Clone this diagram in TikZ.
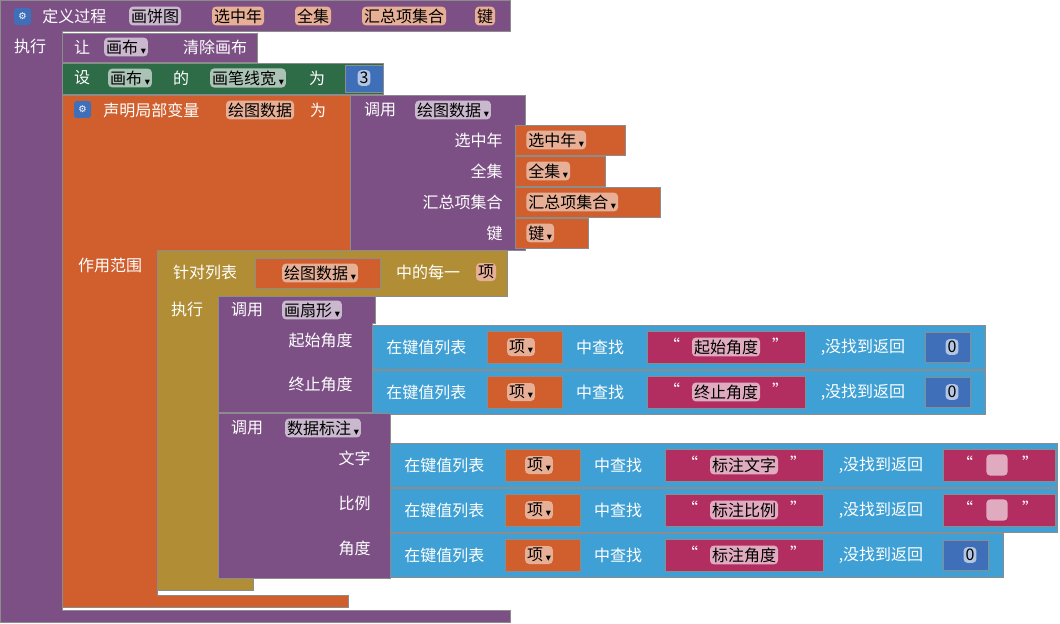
\documentclass[tikz,border=0pt]{standalone}
\usepackage{fontspec}
\setmainfont{Noto Sans CJK SC}
\newfontfamily\sym{DejaVu Sans}
\definecolor{proc}{HTML}{7C5085}
\definecolor{vars}{HTML}{D05F2D}
\definecolor{setc}{HTML}{2E6B47}
\definecolor{dict}{HTML}{3EA0D4}
\definecolor{txtc}{HTML}{B22D60}
\definecolor{ctrl}{HTML}{B18E35}
\definecolor{numc}{HTML}{3F6FB8}
\newcommand\dd{\,{\sym\tiny ▼}}
\tikzset{
  blk/.style={draw=black!45,line width=.5pt},
  lbl/.style={text=white,font=\fontsize{12}{14}\selectfont,inner sep=0pt},
  pill/.style={fill=white,fill opacity=.6,text opacity=1,rounded corners=3pt,
    inner sep=1.5pt,font=\fontsize{12}{14}\selectfont,text=black},
  ppill/.style={pill,fill=vars!50!white,fill opacity=1},
}
% one dictionary lookup row: x left, y top, x right, key text, fallback code
\newcommand\kvrow[5]{%
  \fill[dict,blk] (#1,#2) rectangle (#3,#2+44);
  \node[lbl,anchor=west] at (#1+14,#2+22) {在键值列表};
  \fill[vars,blk] (#1+115,#2+6) rectangle (#1+190,#2+38);
  \node[ppill] at (#1+149,#2+22) {项\dd};
  \node[lbl] at (#1+228,#2+22) {中查找};
  \fill[txtc,blk] (#1+275,#2+6) rectangle (#1+433,#2+38);
  \node[lbl] at (#1+300,#2+20) {“};
  \node[pill] at (#1+354,#2+22) {#4};
  \node[lbl] at (#1+408,#2+20) {”};
  \node[lbl] at (#1+491,#2+22) {,没找到返回};
  #5}
\newcommand\numzero[2]{%
  \fill[numc,blk] (#1+553,#2+7) rectangle (#1+598,#2+37);
  \node[pill] at (#1+580,#2+22) {0};}
\newcommand\emptytxt[2]{%
  \fill[txtc,blk] (#1+553,#2+6) rectangle (#1+665,#2+38);
  \node[lbl] at (#1+575,#2+20) {“};
  \node[pill,minimum width=16pt,minimum height=16pt] at (#1+607,#2+22) {};
  \node[lbl] at (#1+640,#2+20) {”};}
\begin{document}
\begin{tikzpicture}[x=0.75pt,y=-0.75pt]
\useasboundingbox (0,0) rectangle (1060,624);
% procedure frame
\fill[proc,blk] (0,0) -- (510,0) -- (510,31) -- (62,31) -- (62,610) -- (510,610)
  -- (510,622) -- (0,622) -- cycle;
\fill[numc,rounded corners=2pt] (14,8) rectangle (31,25);
\node[text=white,font=\sym\scriptsize] at (22.5,16.5) {⚙};
\node[lbl,anchor=west] (def) at (42,16) {定义过程};
\node[pill] (name) at (155,16) {画饼图};
\node[ppill] (p1) at (238,16) {选中年};
\node[ppill] (p2) at (313,16) {全集};
\node[ppill] (p3) at (404,16) {汇总项集合};
\node[ppill] (p4) at (485,16) {键};
\node[lbl] at (30,46) {执行};
% clear canvas
\fill[proc,blk] (62,33) rectangle (257,62);
\node[lbl] at (82,47) {让};
\node[pill] at (126,47) {画布\dd};
\node[lbl] at (215,47) {清除画布};
% set line width
\fill[setc,blk] (62,63) rectangle (383,94);
\node[lbl] at (82,78) {设};
\node[pill] at (130,78) {画布\dd};
\node[lbl] at (181,78) {的};
\node[pill] at (248,78) {画笔线宽\dd};
\node[lbl] at (317,78) {为};
\fill[numc,blk] (345,65) rectangle (383,92);
\node[pill] at (364,78) {3};
% local variable
\fill[vars,blk] (62,95) -- (350,95) -- (350,250) -- (157,250) -- (157,595) -- (348,595)
  -- (348,607) -- (62,607) -- cycle;
\fill[numc,rounded corners=2pt] (74,101) rectangle (91,118);
\node[text=white,font=\sym\scriptsize] at (82.5,109.5) {⚙};
\node[lbl,anchor=west] at (103,110) {声明局部变量};
\node[ppill] at (260,110) {绘图数据};
\node[lbl] at (318,110) {为};
\node[lbl] at (110,265) {作用范围};
% call draw data
\fill[proc,blk] (350,95) rectangle (525,250);
\node[lbl] at (380,110) {调用};
\node[pill] at (453,110) {绘图数据\dd};
\foreach \t/\yy/\w in {选中年/140/110,全集/171/90,汇总项集合/202/145,键/233/73}{
  \node[lbl,anchor=east] at (503,\yy) {\t};
  \fill[vars,blk] (515,\yy-15) rectangle (515+\w,\yy+15);
  \node[ppill,anchor=west] at (526,\yy) {\t\dd};
}
% for each
\fill[ctrl,blk] (157,250) -- (507,250) -- (507,296) -- (218,296) -- (218,578) -- (253,578)
  -- (253,590) -- (157,590) -- cycle;
\node[lbl] at (205,272) {针对列表};
\fill[vars,blk] (255,258) rectangle (380,288);
\node[ppill] at (320,273) {绘图数据\dd};
\node[lbl] at (428,272) {中的每一};
\node[ppill] at (486,272) {项};
\node[lbl] at (187,309) {执行};
% call sector
\fill[proc,blk] (218,296) -- (375,296) -- (375,323) -- (372,323) -- (372,412)
  -- (218,412) -- cycle;
\node[lbl] at (247,310) {调用};
\node[pill] at (312,310) {画扇形\dd};
\node[lbl,anchor=east] at (353,340) {起始角度};
\node[lbl,anchor=east] at (353,384) {终止角度};
\kvrow{372}{325}{985}{起始角度}{\numzero{372}{325}}
\kvrow{372}{370}{985}{终止角度}{\numzero{372}{370}}
% call label
\fill[proc,blk] (218,413) rectangle (390,578);
\node[lbl] at (247,428) {调用};
\node[pill] at (323,428) {数据标注\dd};
\node[lbl,anchor=east] at (371,458) {文字};
\node[lbl,anchor=east] at (371,503) {比例};
\node[lbl,anchor=east] at (371,548) {角度};
\kvrow{390}{443}{1057}{标注文字}{\emptytxt{390}{443}}
\kvrow{390}{488}{1057}{标注比例}{\emptytxt{390}{488}}
\kvrow{390}{533}{1003}{标注角度}{\numzero{390}{533}}
\end{tikzpicture}
\end{document}
